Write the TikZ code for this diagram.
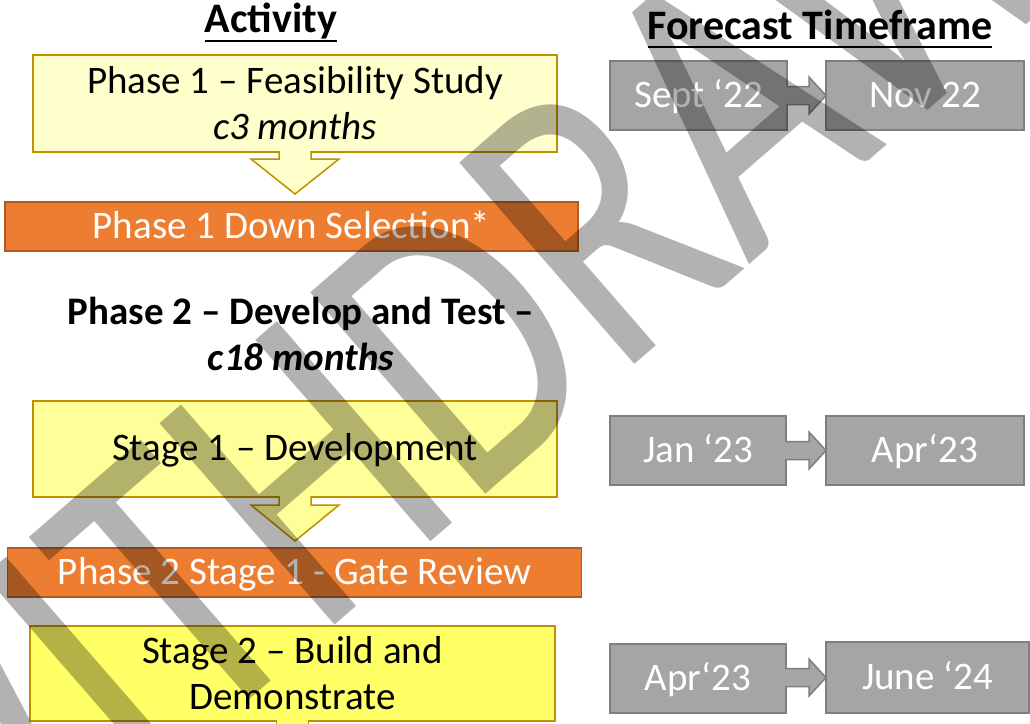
\documentclass[tikz,border=0pt]{standalone}
\usepackage{fontspec}
\setmainfont{Carlito}
\usetikzlibrary{calc}
\definecolor{gold}{HTML}{BF9000}
\definecolor{yA}{HTML}{FFFFCC}
\definecolor{yB}{HTML}{FFFF99}
\definecolor{yC}{HTML}{FFFF66}
\definecolor{orng}{HTML}{ED7D31}
\definecolor{orngb}{HTML}{AE5A21}
\definecolor{gfill}{HTML}{A5A5A5}
\definecolor{gline}{HTML}{7F7F7F}
\begin{document}
\begin{tikzpicture}[x=1pt,y=-1pt,
  every node/.style={inner sep=0pt, outer sep=0pt},
  txt/.style={font=\fontsize{39}{46}\selectfont, align=center},
  oneline/.style={text height=23pt, text depth=0pt},
  ybox/.style={txt, draw=gold, line width=1.5pt, rectangle},
  obox/.style={txt, oneline, draw=orngb, fill=orng, text=white, line width=1.2pt},
  gbox/.style={txt, oneline, draw=gline, fill=gfill, text=white, line width=1.5pt},
  hdr/.style={font=\fontsize{42}{50}\selectfont\bfseries, anchor=base},
  yarrow/.style={draw=gold, line width=1.5pt, line join=miter},
  garrow/.style={draw=gline, fill=gfill, line width=1.5pt, line join=miter},
  wmark/.style={rotate=41, yscale=1.3, opacity=0.3, text=black, font=\fontsize{320}{320}\selectfont}
]
\fill[white] (0,0) rectangle (1030,723);
\useasboundingbox (0,0) rectangle (1030,723);

% headers
\node[hdr] (ha) at (271,32) {Activity};
\draw[line width=2.5pt] ($(ha.base west)+(0,9)$) -- ($(ha.base east)+(0,9)$);
\node[hdr] (hf) at (820,39) {Forecast Timeframe};
\draw[line width=2.5pt] ($(hf.base west)+(0,8)$) -- ($(hf.base east)+(0,8)$);

% activity column
\node[ybox, fill=yA, minimum width=524pt, minimum height=97pt] (p1) at (295,103.5)
  {Phase 1 – Feasibility Study\\\textit{c3 months}};
\node[obox, minimum width=573pt, minimum height=49pt] (d1) at (291.5,226.5)
  {Phase 1 Down Selection*};
\node[txt, font=\fontsize{39}{46}\selectfont\bfseries] (ph2) at (301,334)
  {Phase 2 – Develop and Test –\\\textit{c18 months}};
\node[ybox, oneline, fill=yB, minimum width=524pt, minimum height=96pt] (p2) at (295,449)
  {Stage 1 – Development};
\node[obox, minimum width=574pt, minimum height=49pt] (d2) at (294.5,572.5)
  {Phase 2 Stage 1 - Gate Review};
\node[ybox, fill=yC, minimum width=525pt, minimum height=95pt] (p3) at (292.5,673.5)
  {Stage 2 – Build and\\Demonstrate};

% down block arrows
\filldraw[yarrow, fill=yA] ($(p1.south)+(-16,-1)$) -- ($(p1.south)+(-16,7)$) -- ($(p1.south)+(-44,7)$)
  -- ($(p1.south |- d1.north)+(0,-8)$) -- ($(p1.south)+(44,7)$) -- ($(p1.south)+(16,7)$) -- ($(p1.south)+(16,-1)$);
\filldraw[yarrow, fill=yB] ($(p2.south)+(-16,-1)$) -- ($(p2.south)+(-16,8)$) -- ($(p2.south)+(-44,8)$)
  -- ($(p2.south |- d2.north)+(0,-7)$) -- ($(p2.south)+(44,8)$) -- ($(p2.south)+(16,8)$) -- ($(p2.south)+(16,-1)$);
\coordinate (p3out) at ($(p3.south)+(0,30)$);
\fill[yC] ($(p3.south)+(-16,-1)$) rectangle ($(p3out)+(16,0)$);
\draw[yarrow] ($(p3.south)+(-16,-1)$) -- ($(p3out)+(-16,0)$);
\draw[yarrow] ($(p3.south)+(16,-1)$) -- ($(p3out)+(16,0)$);

% forecast column
\node[gbox, minimum width=177pt, minimum height=69pt] (s1) at (698.5,95.5) {Sept ‘22};
\node[gbox, minimum width=198pt, minimum height=69pt] (n1) at (925,95.5) {Nov 22};
\node[gbox, minimum width=176pt, minimum height=69pt] (s2) at (698,450.5) {Jan ‘23};
\node[gbox, minimum width=198pt, minimum height=69pt] (n2) at (925,450.5) {Apr‘23};
\node[gbox, minimum width=176pt, minimum height=69pt] (s3) at (698,678.5) {Apr‘23};
\node[gbox, minimum width=203pt, minimum height=71pt] (n3) at (927.5,677.5) {June ‘24};

\foreach \a/\b in {s1/n1, s2/n2, s3/n3}{
  \filldraw[garrow] ($(\a.east |- \b.west)+(-1,-9)$) -- ($(\b.west)+(-17,-9)$) -- ($(\b.west)+(-17,-18.5)$)
    -- (\b.west) -- ($(\b.west)+(-17,18.5)$) -- ($(\b.west)+(-17,9)$) -- ($(\a.east |- \b.west)+(-1,9)$);
}

% watermark
\node[wmark] (wm) at (500,305) {WITHDRAWN};
\end{tikzpicture}
\end{document}
